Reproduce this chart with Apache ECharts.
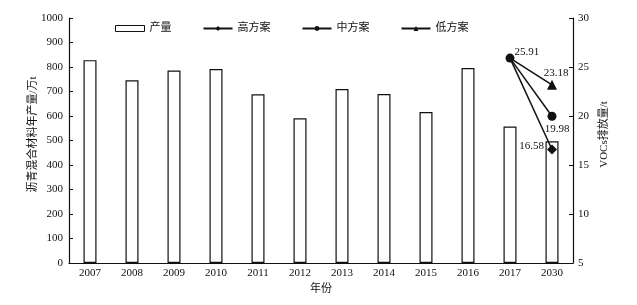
<!DOCTYPE html>
<html><head><meta charset="utf-8">
<script src="https://cdn.jsdelivr.net/npm/echarts@6/dist/echarts.min.js"></script>
<style>html,body{margin:0;padding:0;background:#fff}#c{width:637px;height:305px}</style>
</head><body><div id="c"></div>
<script>
const categories = ['2007','2008','2009','2010','2011','2012','2013','2014','2015','2016','2017','2030'];
const production = [828, 746, 786, 792, 689, 591, 710, 690, 616, 796, 557, 497];
const highPlan = [null,null,null,null,null,null,null,null,null,null,25.91,16.58];
const midPlan  = [null,null,null,null,null,null,null,null,null,null,25.91,19.98];
const lowPlan  = [null,null,null,null,null,null,null,null,null,null,25.91,23.18];
const leftTicks = {min:0, max:1000, interval:100};
const rightTicks = {min:5, max:30, interval:5};

const FONT = "'Liberation Serif','Noto Sans CJK SC',serif";
const txt = {color:'#111', fontFamily:FONT, fontSize:11};

function lineData(arr, labelCfg, hideFirst){
  return arr.map((v,i)=>{
    if(v===null) return null;
    const o = {value:v};
    if(i===10 && hideFirst) { o.symbol='none'; }
    if(labelCfg[i]) o.label = Object.assign({show:true, formatter: String(v.toFixed(2))}, txt, labelCfg[i]);
    return o;
  });
}

const chart = echarts.init(document.getElementById('c'));
chart.setOption({
  animation:false,
  backgroundColor:'#fff',
  grid:{left:69, right:64, top:18, bottom:42},
  legend:{
    left:110, top:18, itemGap:31, itemWidth:29, itemHeight:6,
    textStyle:Object.assign({}, txt),
    data:[
      {name:'产量', icon:'rect', itemStyle:{color:'#fff', borderColor:'#111', borderWidth:1}},
      '高方案','中方案','低方案'
    ]
  },
  xAxis:{
    type:'category', data:categories,
    name:'年份', nameLocation:'middle', nameGap:19, nameTextStyle:Object.assign({}, txt),
    axisLine:{lineStyle:{color:'#111', width:1.2}},
    axisTick:{show:false},
    axisLabel:Object.assign({margin:5, interval:0}, txt)
  },
  yAxis:[
    {type:'value', min:leftTicks.min, max:leftTicks.max, interval:leftTicks.interval,
     name:'沥青混合材料年产量/万t', nameLocation:'middle', nameRotate:90, nameGap:30,
     nameMoveOverlap:false,
     nameTextStyle:Object.assign({padding:[0,0,0,12]}, txt),
     axisLine:{show:true, lineStyle:{color:'#111', width:1.2}},
     axisTick:{show:true, inside:true, length:4, lineStyle:{color:'#111'}},
     splitLine:{show:false},
     axisLabel:Object.assign({margin:6, formatter:(v)=>String(v)}, txt)},
    {type:'value', min:rightTicks.min, max:rightTicks.max, interval:rightTicks.interval,
     position:'right',
     name:'VOCs排放量/t', nameLocation:'middle', nameRotate:90, nameGap:26,
     nameMoveOverlap:false,
     nameTextStyle:Object.assign({padding:[0,0,0,12]}, txt),
     axisLine:{show:true, lineStyle:{color:'#111', width:1.2}},
     axisTick:{show:true, inside:true, length:4, lineStyle:{color:'#111'}},
     splitLine:{show:false},
     axisLabel:Object.assign({margin:5}, txt)}
  ],
  series:[
    {name:'产量', type:'bar', data:production, barWidth:13,
     itemStyle:{color:'#fff', borderColor:'#111', borderWidth:1.2}},
    {name:'高方案', type:'line', yAxisIndex:1, symbol:'diamond', symbolSize:10,
     data:lineData(highPlan, {11:{position:'left', distance:3, offset:[0,-3]}}, true),
     lineStyle:{color:'#111', width:1.5}, itemStyle:{color:'#111'}, z:3},
    {name:'低方案', type:'line', yAxisIndex:1, symbol:'triangle', symbolSize:10,
     data:lineData(lowPlan, {11:{position:'top', distance:4, offset:[4,3]}}, true),
     lineStyle:{color:'#111', width:1.5}, itemStyle:{color:'#111'}, z:3},
    {name:'中方案', type:'line', yAxisIndex:1, symbol:'circle', symbolSize:9,
     data:lineData(midPlan, {10:{position:'right', distance:2, offset:[-2,-6]}, 11:{position:'bottom', distance:3, offset:[5,0]}}, false),
     lineStyle:{color:'#111', width:1.5}, itemStyle:{color:'#111'}, z:4}
  ]
});
</script>
</body></html>
